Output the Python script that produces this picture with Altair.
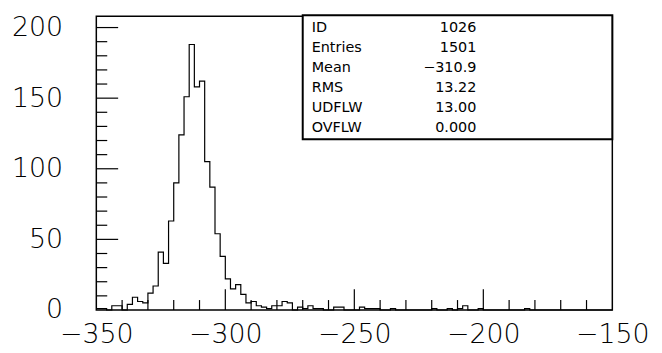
import altair as alt
import pandas as pd

# ---- data -------------------------------------------------------------
x_min, x_max, bin_w = -350, -150, 2
counts = [
    1, 1, 0, 3, 3, 0, 4, 9, 6, 5,
    12, 17, 41, 33, 63, 90, 124, 151, 188, 158,
    162, 105, 87, 54, 38, 22, 15, 18, 11, 5,
    6, 3, 2, 1, 3, 3, 6, 5, 0, 2,
    1, 3, 1, 1, 0, 0, 2, 2, 0, 0,
    0, 2, 1, 1, 1, 0, 0, 1, 0, 0,
    0, 0, 0, 0, 0, 1, 0, 0, 1, 0,
    1, 3, 0, 0, 1, 0, 0, 0, 0, 0,
    0, 0, 0, 1, 0, 0, 0, 0, 0, 0,
    0, 0, 0, 0, 0, 0, 0, 0, 0, 0,
]
y_max = 208

x_label_values = [-350, -300, -250, -200, -150]
y_label_values = [0, 50, 100, 150, 200]
x_major_ticks = [-300, -250, -200]
x_minor_ticks = [-340, -330, -320, -310, -290, -280, -270, -260,
                 -240, -230, -220, -210, -190, -180, -170, -160]
y_major_ticks = [50, 100, 150, 200]
y_minor_ticks = [10, 20, 30, 40, 60, 70, 80, 90, 110, 120, 130, 140,
                 160, 170, 180, 190]

stat_names = ["ID", "Entries", "Mean", "RMS", "UDFLW", "OVFLW"]
stat_values = ["1026", "1501", "\u2212310.9", "13.22", "13.00", "0.000"]

# ---- chart ------------------------------------------------------------
W, H = 520, 296
FONT = "DejaVu Sans"

edges = [x_min + bin_w * i for i in range(len(counts) + 1)]
hist_df = pd.DataFrame({"x": edges, "n": counts + [counts[-1]]})

xs = alt.Scale(domain=[x_min, x_max], nice=False, zero=False)
ys = alt.Scale(domain=[0, y_max], nice=False, zero=True)

x_axis = alt.Axis(values=x_label_values, ticks=False, domain=False, grid=False,
                  labelPadding=12, labelFontSize=27, labelFont=FONT,
                  labelFontWeight=200, labelColor="black", labelFlush=False,
                  labelOverlap=False)
y_axis = alt.Axis(values=y_label_values, ticks=False, domain=False, grid=False,
                  labelPadding=34, labelFontSize=27, labelFont=FONT,
                  labelFontWeight=200, labelColor="black", labelFlush=False,
                  labelOverlap=False)

hist = alt.Chart(hist_df).mark_line(
    interpolate="step-after", color="black", strokeWidth=1.2
).encode(
    x=alt.X("x:Q", scale=xs, title=None, axis=x_axis),
    y=alt.Y("n:Q", scale=ys, title=None, axis=y_axis),
)

def xticks(vals, length):
    return alt.Chart(pd.DataFrame({"x": vals})).mark_rule(
        color="black", strokeWidth=1.2
    ).encode(x=alt.X("x:Q", scale=xs, title=None, axis=x_axis),
             y=alt.value(H), y2=alt.value(H - length))

def yticks(vals, length):
    return alt.Chart(pd.DataFrame({"n": vals})).mark_rule(
        color="black", strokeWidth=1.2
    ).encode(y=alt.Y("n:Q", scale=ys, title=None, axis=y_axis),
             x=alt.value(0), x2=alt.value(length))

box = alt.Chart(pd.DataFrame({"k": [0]})).mark_rect(
    fill="white", stroke="black", strokeWidth=2
).encode(x=alt.value(208), x2=alt.value(W), y=alt.value(-1), y2=alt.value(124))

names = alt.Chart(pd.DataFrame({"k": [0]})).mark_text(
    align="left", baseline="alphabetic", font=FONT, fontSize=14.5,
    lineHeight=20.2, color="black"
).encode(x=alt.value(217), y=alt.value(15.5), text=alt.value(stat_names))

vals = alt.Chart(pd.DataFrame({"k": [0]})).mark_text(
    align="right", baseline="alphabetic", font=FONT, fontSize=14.5,
    lineHeight=20.2, color="black"
).encode(x=alt.value(383), y=alt.value(15.5), text=alt.value(stat_values))

chart = alt.layer(
    hist,
    xticks(x_minor_ticks, 10), xticks(x_major_ticks, 21),
    yticks(y_minor_ticks, 11), yticks(y_major_ticks, 22),
    box, names, vals,
).properties(
    width=W, height=H,
    autosize=alt.AutoSizeParams(type="none"),
    padding={"left": 89, "top": 7, "right": 42, "bottom": 38},
    background="white",
).configure_view(stroke="black", strokeWidth=1.5)

chart.save("out.html", embed_options={"renderer": "svg", "actions": False})
